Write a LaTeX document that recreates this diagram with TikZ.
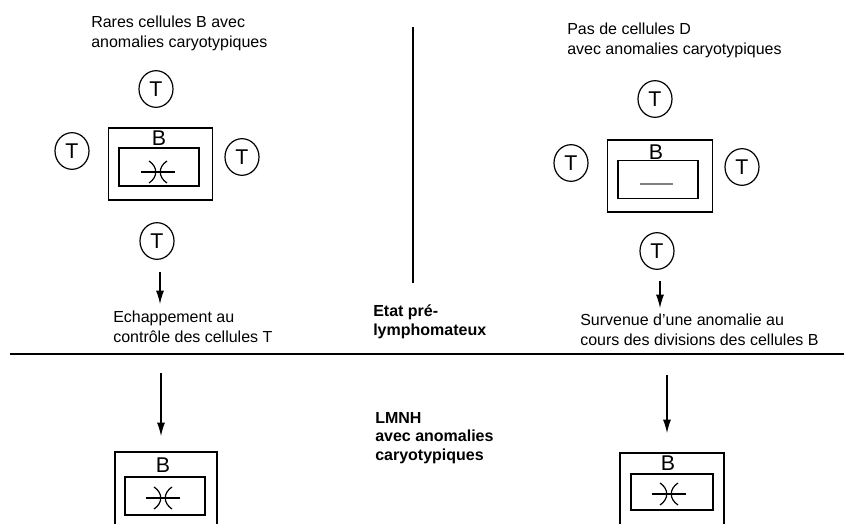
\documentclass[tikz,border=0pt]{standalone}
\usepackage{fontspec}
\setmainfont{Liberation Sans}
\usetikzlibrary{shapes.geometric,arrows.meta}
\begin{document}
\begin{tikzpicture}[x=0.75pt,y=-0.75pt,
    tcell/.style={draw,line width=0.9pt,ellipse,minimum width=25.5pt,minimum height=27.5pt,
      inner sep=0pt,font=\fontsize{16}{16}\selectfont},
    txt/.style={anchor=west,align=left,inner sep=0pt,font=\fontsize{12}{15}\selectfont},
    boldtxt/.style={anchor=west,align=left,inner sep=0pt,font=\fontsize{12}{14}\selectfont\bfseries},
    outerbox/.style={draw,line width=0.9pt,inner sep=0pt,minimum width=78.5pt,minimum height=54pt},
    innerbox/.style={draw,line width=0.9pt,inner sep=0pt,minimum width=60pt,minimum height=28.5pt},
    blabel/.style={inner sep=0pt,font=\fontsize{16}{16}\selectfont},
    arr/.style={line width=0.8pt,-{Latex[length=10pt,width=6pt]}},
    trans/.pic={
      \draw[line width=0.9pt] (-17,0) -- (17,0);
      \draw[line width=0.9pt] (-9,-11) .. controls (0,-5) and (0,5) .. (-9,11);
      \draw[line width=0.9pt] (9,-11) .. controls (0,-5) and (0,5) .. (9,11);
    }]

  % fix the frame of the picture
  \useasboundingbox (0,0) rectangle (844,524);
  \clip (0,0) rectangle (844,524);
  \fill [white] (0,0) rectangle (844,524);

  % separators
  \draw [line width=0.8pt] (413,27) -- (413,283);
  \draw [line width=1.6pt] (10,354) -- (844,354);

  % titles
  \node [txt] (titleL) at (91,33) {Rares cellules B avec\\anomalies caryotypiques};
  \node [txt] (titleR) at (567,40) {Pas de cellules D\\avec anomalies caryotypiques};

  % B cells surrounded by T cells
  \node [outerbox] (boxL) at (160.5,164) {};
  \node [innerbox] (inL) at (159,167) {};
  \node [blabel] (bL) at (159,138) {B};
  \pic at (158,172) {trans};

  \node [outerbox] (boxR) at (660,176) {};
  \node [innerbox] (inR) at (658,179.5) {};
  \node [blabel] (bR) at (656,152) {B};
  \draw [line width=0.8pt,gray] (640,184) -- (673,184);

  \foreach \n/\x/\y in {tL1/156/89, tL2/72/151, tL3/242/157, tL4/157/241,
                        tR1/655/99, tR2/571/163, tR3/742/167, tR4/657/251}
    \node [tcell] (\n) at (\x,\y) {T};

  % arrows and comments above the line
  \coordinate (aL1) at (160,272);
  \coordinate (eL1) at (160,304);
  \draw [arr] (aL1) -- (eL1);
  \node [txt] (escL) at (113,327) {Echappement au\\contr\^ole des cellules T};

  \coordinate (aR1) at (660,281);
  \coordinate (eR1) at (660,308);
  \draw [arr] (aR1) -- (eR1);
  \node [txt] (survR) at (580,330) {Survenue d'une anomalie au\\cours des divisions des cellules B};

  \node [boldtxt] (etat) at (373,322) {Etat pr\'e-\\lymphomateux};

  % below the line
  \coordinate (aL2) at (161,373);
  \coordinate (eL2) at (161,436);
  \draw [arr] (aL2) -- (eL2);
  \coordinate (aR2) at (667,375);
  \coordinate (eR2) at (667,433);
  \draw [arr] (aR2) -- (eR2);

  \node [boldtxt] (lmnh) at (375,438) {LMNH\\avec anomalies\\caryotypiques};

  % lymphoma B cells (cut by the page)
  \draw [line width=0.9pt] (115,452) rectangle (217,545);
  \node [innerbox] (inL2) at (165,496) {};
  \node [blabel] (bL2) at (163,465) {B};
  \pic at (163,498) {trans};

  \draw [line width=0.9pt] (620,453) rectangle (724,545);
  \node [innerbox,minimum height=27pt,minimum width=61.5pt] (inR2) at (672,492) {};
  \node [blabel] (bR2) at (668,463) {B};
  \pic at (669,494) {trans};

\end{tikzpicture}
\end{document}
